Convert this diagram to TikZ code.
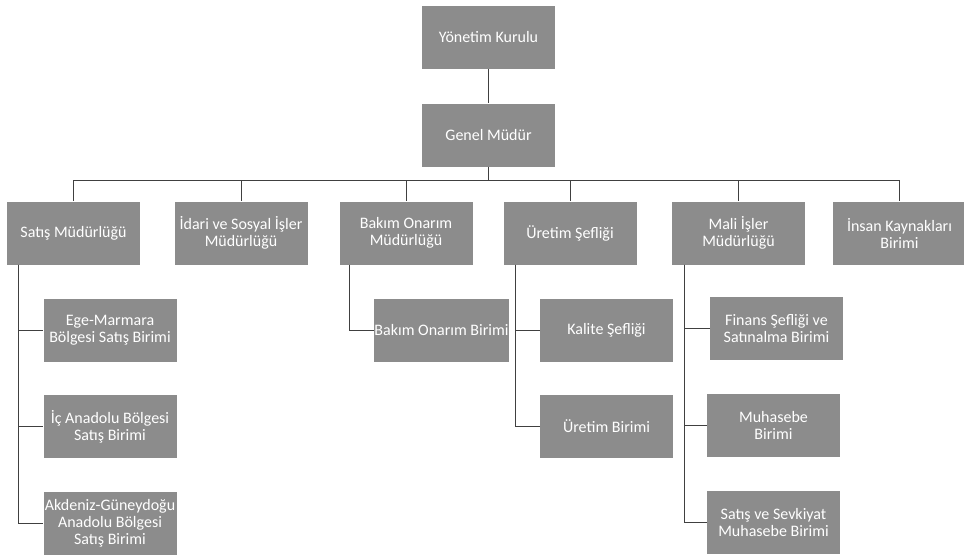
\documentclass[tikz,border=0pt]{standalone}
\usepackage{fontspec}
\setmainfont{Carlito}
\begin{document}
\begin{tikzpicture}[x=1pt,y=-1pt,
  box/.style={fill=black!45,text=white,align=center,
    minimum width=133pt,minimum height=63pt,inner sep=0pt,
    font=\fontsize{16}{17}\selectfont},
  link/.style={draw=black!75,line width=0.6pt}]
\useasboundingbox (0,0) rectangle (964,555);
% top
\node[box] (yk) at (488.5,37.5) {Yönetim Kurulu};
\node[box] (gm) at (488.5,135) {Genel Müdür};
% row
\node[box] (satis) at (73.5,233) {Satış Müdürlüğü};
\node[box] (idari) at (241,233) {İdari ve Sosyal İşler\\Müdürlüğü};
\node[box] (bakim) at (406,233) {Bakım Onarım\\Müdürlüğü};
\node[box] (uretim) at (570,233) {Üretim Şefliği};
\node[box] (mali) at (738.5,233) {Mali İşler\\Müdürlüğü};
\node[box] (insan) at (899.5,233) {İnsan Kaynakları\\Birimi};
% children
\node[box] (s1) at (110,330) {Ege-Marmara\\Bölgesi Satış Birimi};
\node[box] (s2) at (110,426.5) {İç Anadolu Bölgesi\\Satış Birimi};
\node[box] (s3) at (110,523) {Akdeniz-Güneydoğu\\Anadolu Bölgesi\\Satış Birimi};
\node[box] (b1) at (441.5,330) {Bakım Onarım Birimi};
\node[box] (u1) at (606.5,330) {Kalite Şefliği};
\node[box] (u2) at (606.5,426.5) {Üretim Birimi};
\node[box] (m1) at (776.5,328.5) {Finans Şefliği ve\\Satınalma Birimi};
\node[box] (m2) at (773.5,425) {Muhasebe\\Birimi};
\node[box] (m3) at (773.5,522) {Satış ve Sevkiyat\\Muhasebe Birimi};
% connectors
\draw[link] (yk.south) -- (gm.north);
\coordinate (bus) at ([yshift=-14pt]gm.south);
\draw[link] (gm.south) -- (bus);
\foreach \n in {satis,idari,bakim,uretim,mali,insan}
  \draw[link] (bus) -| (\n.north);
\coordinate (sv) at ([xshift=11pt]satis.south west);
\foreach \n in {s1,s2,s3} \draw[link] (sv) |- (\n.west);
\coordinate (bv) at ([xshift=10pt]bakim.south west);
\draw[link] (bv) |- (b1.west);
\coordinate (uv) at ([xshift=12pt]uretim.south west);
\foreach \n in {u1,u2} \draw[link] (uv) |- (\n.west);
\coordinate (mv) at ([xshift=12pt]mali.south west);
\foreach \n in {m1,m2,m3} \draw[link] (mv) |- (\n.west);
\end{tikzpicture}
\end{document}
